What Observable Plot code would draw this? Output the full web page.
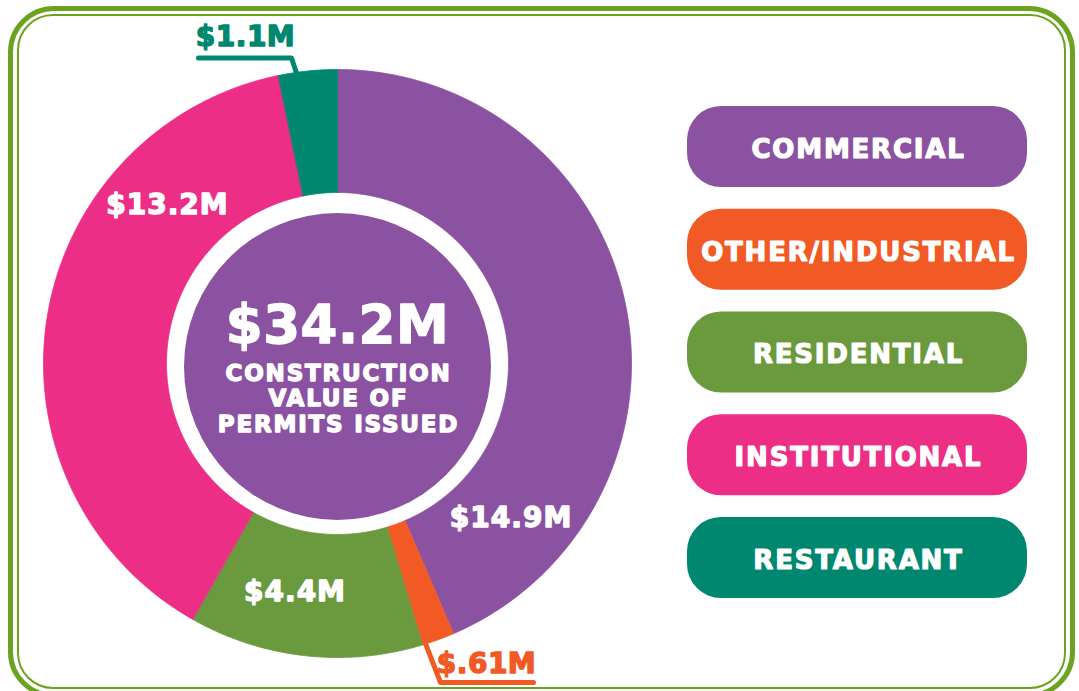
<!DOCTYPE html>
<html><head><meta charset="utf-8">
<script src="https://cdn.jsdelivr.net/npm/d3@7"></script>
<script src="https://cdn.jsdelivr.net/npm/@observablehq/plot@0.6"></script>
<style>
html,body{margin:0;padding:0;background:#fff;width:1079px;height:691px;overflow:hidden}
#wrap{position:relative;width:1079px;height:691px}
.b1{position:absolute;left:8px;top:6px;width:1067px;height:692px;border:5px solid #6ba21e;border-radius:46px;box-sizing:border-box}
.b2{position:absolute;left:17px;top:14px;width:1049px;height:675px;border:2px solid #6ba21e;border-radius:36px;box-sizing:border-box}
#chart{position:absolute;left:0;top:0}
</style></head><body>
<div id="wrap"><div id="chart"></div><div class="b1"></div><div class="b2"></div></div>
<script>
// ---- data ----
const categories = ["COMMERCIAL", "OTHER/INDUSTRIAL", "RESIDENTIAL", "INSTITUTIONAL", "RESTAURANT"];
const values = [14.9, 0.61, 4.4, 13.2, 1.1];
const valueLabels = ["$14.9M", "$.61M", "$4.4M", "$13.2M", "$1.1M"];
const colors = ["#8b52a1", "#f15a24", "#6a9a3d", "#ed2e86", "#00876f"];
const totalLabel = "$34.2M";
const centerLines = ["CONSTRUCTION", "VALUE OF", "PERMITS ISSUED"];

// ---- layout ----
const W = 1079, H = 691;
const cx = 337, cy = 363, R = 294, R0 = 171;
const FONT = "DejaVu Sans";
const labelFrac = [0.84, 0.9, 0.59, 0.745, 0.31];
const labelInside = [true, false, true, true, false];
const leaders = {
  1: {elbow: [440, 682], end: [533, 682], text: [486, 664]},
  4: {elbow: [291, 57.5], end: [198, 57.5], text: [245, 37]}
};

const arcs = d3.pie().sort(null).value(d => d)(values);
const pt = (a, r) => [cx + r * Math.sin(a), cy - r * Math.cos(a)];

const slicePts = [];
arcs.forEach((a, i) => {
  const n = Math.max(2, Math.ceil((a.endAngle - a.startAngle) / 0.01));
  for (let k = 0; k <= n; k++) {
    const t = a.startAngle + (a.endAngle - a.startAngle) * k / n;
    const [px, py] = pt(t, R);
    slicePts.push({cat: categories[i], px, py});
  }
  for (let k = n; k >= 0; k--) {
    const t = a.startAngle + (a.endAngle - a.startAngle) * k / n;
    const [px, py] = pt(t, R0);
    slicePts.push({cat: categories[i], px, py});
  }
});

const insideLabels = [];
const outsideLabels = [];
const leaderPts = [];
arcs.forEach((a, i) => {
  const t = a.startAngle + (a.endAngle - a.startAngle) * labelFrac[i];
  if (labelInside[i]) {
    const [px, py] = pt(t, (R + R0) / 2);
    insideLabels.push({cat: categories[i], label: valueLabels[i], px, py});
  } else {
    const L = leaders[i];
    const [ax, ay] = pt(t, R - 2);
    leaderPts.push({cat: categories[i], px: ax, py: ay});
    leaderPts.push({cat: categories[i], px: L.elbow[0], py: L.elbow[1]});
    leaderPts.push({cat: categories[i], px: L.end[0], py: L.end[1]});
    outsideLabels.push({cat: categories[i], label: valueLabels[i], px: L.text[0], py: L.text[1]});
  }
});

const centerText = [
  {label: totalLabel, px: cx, py: 326, size: 53},
  ...centerLines.map((s, i) => ({label: s, px: cx + 1, py: 373 + i * 25.5, size: 23}))
];

const pillTop = 106, pillH = 81, pillStep = 102.75, pillX1 = 687, pillX2 = 1027;
const legendRows = categories.map((c, i) => ({
  cat: c, y1: pillTop + i * pillStep, y2: pillTop + i * pillStep + pillH,
  ym: pillTop + i * pillStep + pillH / 2 + 2.5, xm: (pillX1 + pillX2) / 2 + 1
}));

const chart = Plot.plot({
  width: W, height: H,
  margin: 0,
  x: {domain: [0, W], range: [0, W], axis: null},
  y: {domain: [0, H], range: [0, H], axis: null},
  color: {domain: categories, range: colors},
  style: {background: "transparent", overflow: "visible"},
  marks: [
    Plot.line(slicePts, {x: "px", y: "py", z: "cat", fill: "cat", stroke: "cat", strokeWidth: 0.8, curve: "linear-closed"}),
    Plot.dot([{px: cx, py: 366}], {x: "px", y: "py", r: 153.5, fill: colors[0], stroke: null}),
    Plot.text(centerText, {x: "px", y: "py", text: "label", fontSize: d => d.size, fill: "white", stroke: "white", strokeWidth: 1.4, fontFamily: FONT, fontWeight: "bold", lineAnchor: "middle"}),
    Plot.text(insideLabels, {x: "px", y: "py", text: "label", fill: "white", stroke: "white", strokeWidth: 1.4, fontSize: 28, fontFamily: FONT, fontWeight: "bold"}),
    Plot.line(leaderPts, {x: "px", y: "py", z: "cat", stroke: "cat", strokeWidth: 5, strokeLinecap: "round", strokeLinejoin: "round"}),
    Plot.text(outsideLabels, {x: "px", y: "py", text: "label", fill: "cat", stroke: "cat", strokeWidth: 1.4, fontSize: 28, fontFamily: FONT, fontWeight: "bold"}),
    Plot.rect(legendRows, {x1: pillX1, x2: pillX2, y1: "y1", y2: "y2", fill: "cat", rx: 34}),
    Plot.text(legendRows, {x: "xm", y: "ym", text: "cat", fill: "white", stroke: "white", strokeWidth: 1.2, fontSize: 26, fontFamily: FONT, fontWeight: "bold"})
  ]
});
// letter spacing per text mark (order: centre, inside, outside, legend)
const spacing = [1.8, 1, 0.5, 1.8];
d3.select(chart).selectAll('g[aria-label="text"]').each(function(_, i) {
  d3.select(this).style("letter-spacing", spacing[i] + "px");
});
d3.select(chart).select('g[aria-label="text"]').selectAll("text").filter((_, i) => i === 0).style("letter-spacing", "0.5px");
document.getElementById("chart").appendChild(chart);
</script>
</body></html>
